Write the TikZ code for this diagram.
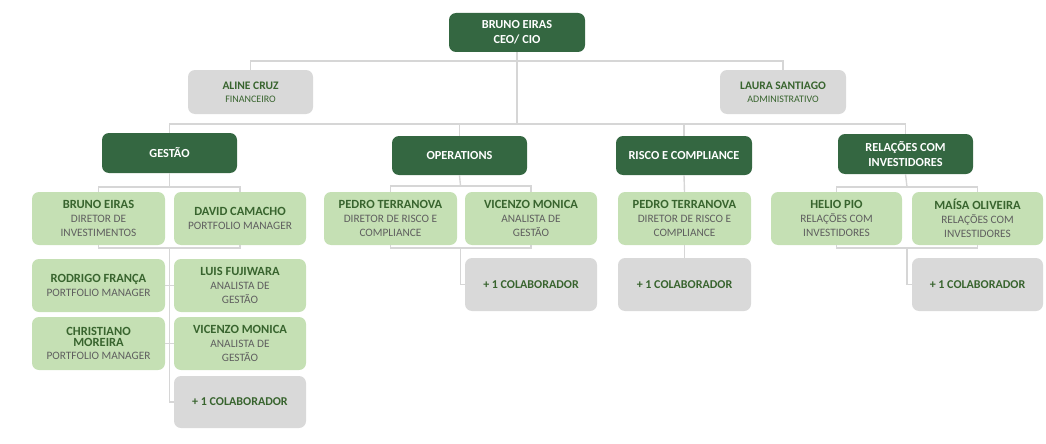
\documentclass[tikz,border=0pt]{standalone}
\usepackage{fontspec}
\setmainfont{Carlito}

\definecolor{dkgreen}{RGB}{52,103,65}
\definecolor{ltgreen}{RGB}{197,224,180}
\definecolor{ltgrey}{RGB}{217,217,217}
\definecolor{linegrey}{RGB}{214,214,214}
\definecolor{nmgreen}{RGB}{56,100,46}
\definecolor{subgrey}{RGB}{95,95,95}

\tikzset{
  box/.style={rounded corners=7pt, align=center, minimum width=133pt, minimum height=53pt, inner sep=1pt, font=\fontsize{11.3}{13.8}\selectfont},
  headbox/.style={box, fill=dkgreen, text=white, minimum width=135pt, minimum height=39pt, font=\fontsize{12.3}{15}\selectfont\bfseries},
  staffbox/.style={box, fill=ltgreen, text=subgrey},
  greybox/.style={box, fill=ltgrey, text=nmgreen, font=\fontsize{12}{14}\selectfont},
  link/.style={draw=linegrey, line width=1.4pt},
}
\newcommand{\nm}[1]{\textbf{\textcolor{nmgreen}{\fontsize{12.5}{13.8}\selectfont #1}}}

\begin{document}
\begin{tikzpicture}[x=1pt, y=-1pt]
    \useasboundingbox (0,0) rectangle (1046,444);

    % top
    \node (ceo) at (517,32.5) [headbox, minimum width=136pt] {BRUNO EIRAS\\CEO/ CIO};
    \node (aline) at (250.5,92) [greybox, minimum width=125pt, minimum height=44pt, font=\fontsize{10}{13}\selectfont] {\textbf{\fontsize{11.5}{13}\selectfont ALINE CRUZ}\\FINANCEIRO};
    \node (laura) at (783,92) [greybox, minimum width=126pt, minimum height=44pt, font=\fontsize{10}{13}\selectfont] {\textbf{\fontsize{11.5}{13}\selectfont LAURA SANTIAGO}\\ADMINISTRATIVO};

    % areas
    \node (gestao) at (169.5,153) [headbox, minimum height=40pt] {GESTÃO};
    \node (oper) at (459.5,155.5) [headbox] {OPERATIONS};
    \node (risco) at (684,155.5) [headbox, minimum width=136pt] {RISCO E COMPLIANCE};
    \node (rel) at (905.5,154) [headbox, minimum height=40pt] {RELAÇÕES COM\\INVESTIDORES};

    % gestao team
    \node (g1) at (98.5,218.5) [staffbox] {\nm{BRUNO EIRAS}\\DIRETOR DE\\INVESTIMENTOS};
    \node (g2) at (240,218.5) [staffbox, minimum width=132pt] {\nm{DAVID CAMACHO}\\PORTFOLIO MANAGER};
    \node (g3) at (98.5,285.5) [staffbox] {\nm{RODRIGO FRANÇA}\\PORTFOLIO MANAGER};
    \node (g4) at (240,285.5) [staffbox, minimum width=132pt] {\nm{LUIS FUJIWARA}\\ANALISTA DE\\GESTÃO};
    \node (g5) at (98.5,343.5) [staffbox] {\nm{CHRISTIANO}\\[-3pt]\nm{MOREIRA}\\PORTFOLIO MANAGER};
    \node (g6) at (240,343.5) [staffbox, minimum width=132pt] {\nm{VICENZO MONICA}\\ANALISTA DE\\GESTÃO};
    \node (g7) at (240,402) [greybox, minimum width=132pt, minimum height=52pt] {\textbf{+ 1 COLABORADOR}};

    % operations team
    \node (o1) at (390.5,218.5) [staffbox] {\nm{PEDRO TERRANOVA}\\DIRETOR DE RISCO E\\COMPLIANCE};
    \node (o2) at (531,218.5) [staffbox, minimum width=132pt] {\nm{VICENZO MONICA}\\ANALISTA DE\\GESTÃO};
    \node (o3) at (531,284.5) [greybox, minimum width=132pt] {\textbf{+ 1 COLABORADOR}};

    % risco team
    \node (r1) at (684.5,218.5) [staffbox] {\nm{PEDRO TERRANOVA}\\DIRETOR DE RISCO E\\COMPLIANCE};
    \node (r2) at (684.5,284.5) [greybox] {\textbf{+ 1 COLABORADOR}};

    % investor relations team
    \node (i1) at (836.5,218.5) [staffbox, minimum width=131pt] {\nm{HELIO PIO}\\RELAÇÕES COM\\INVESTIDORES};
    \node (i2) at (977.5,218.5) [staffbox, minimum width=131pt] {\nm{MAÍSA OLIVEIRA}\\RELAÇÕES COM\\INVESTIDORES};
    \node (i3) at (977.5,284.5) [greybox, minimum width=131pt] {\textbf{+ 1 COLABORADOR}};

    \coordinate (hub) at (517,61);
    \coordinate (bus) at (517,124);
    \coordinate (gtop) at (169.5,187);
    \coordinate (gbot) at (169.5,248);
    \coordinate (otop) at (460.5,186);
    \coordinate (obot) at (460.5,248);
    \coordinate (itop) at (907,187);
    \coordinate (ibot) at (907,248);

    % lines
    \draw [link] (aline.north) |- (hub) -| (laura.north);
    \draw [link] (ceo.south) -- (bus);
    \draw [link] (gestao.north) |- (bus) -| (rel.north);
    \draw [link] (oper.north) |- (bus);
    \draw [link] (risco.north) |- (bus);

    \draw [link] (gestao.south) -- (gtop);
    \draw [link] (g1.north) |- (gtop) -| (g2.north);
    \draw [link] (g1.south) |- (gbot) -| (g2.south);
    \draw [link] (gbot) -- (gbot |- g7.west) -- (g7.west);
    \draw [link] (g3.east) -- (g4.west);
    \draw [link] (g5.east) -- (g6.west);

    \draw [link] (oper.south) -- (otop);
    \draw [link] (o1.north) |- (otop) -| (o2.north);
    \draw [link] (o1.south) |- (obot) -| (o2.south);
    \draw [link] (obot) -- (obot |- o3.west) -- (o3.west);

    \draw [link] (risco.south) -- (r1.north);
    \draw [link] (r1.south) -- (r2.north);

    \draw [link] (rel.south) -- (itop);
    \draw [link] (i1.north) |- (itop) -| (i2.north);
    \draw [link] (i1.south) |- (ibot) -| (i2.south);
    \draw [link] (ibot) -- (ibot |- i3.west) -- (i3.west);
\end{tikzpicture}
\end{document}
